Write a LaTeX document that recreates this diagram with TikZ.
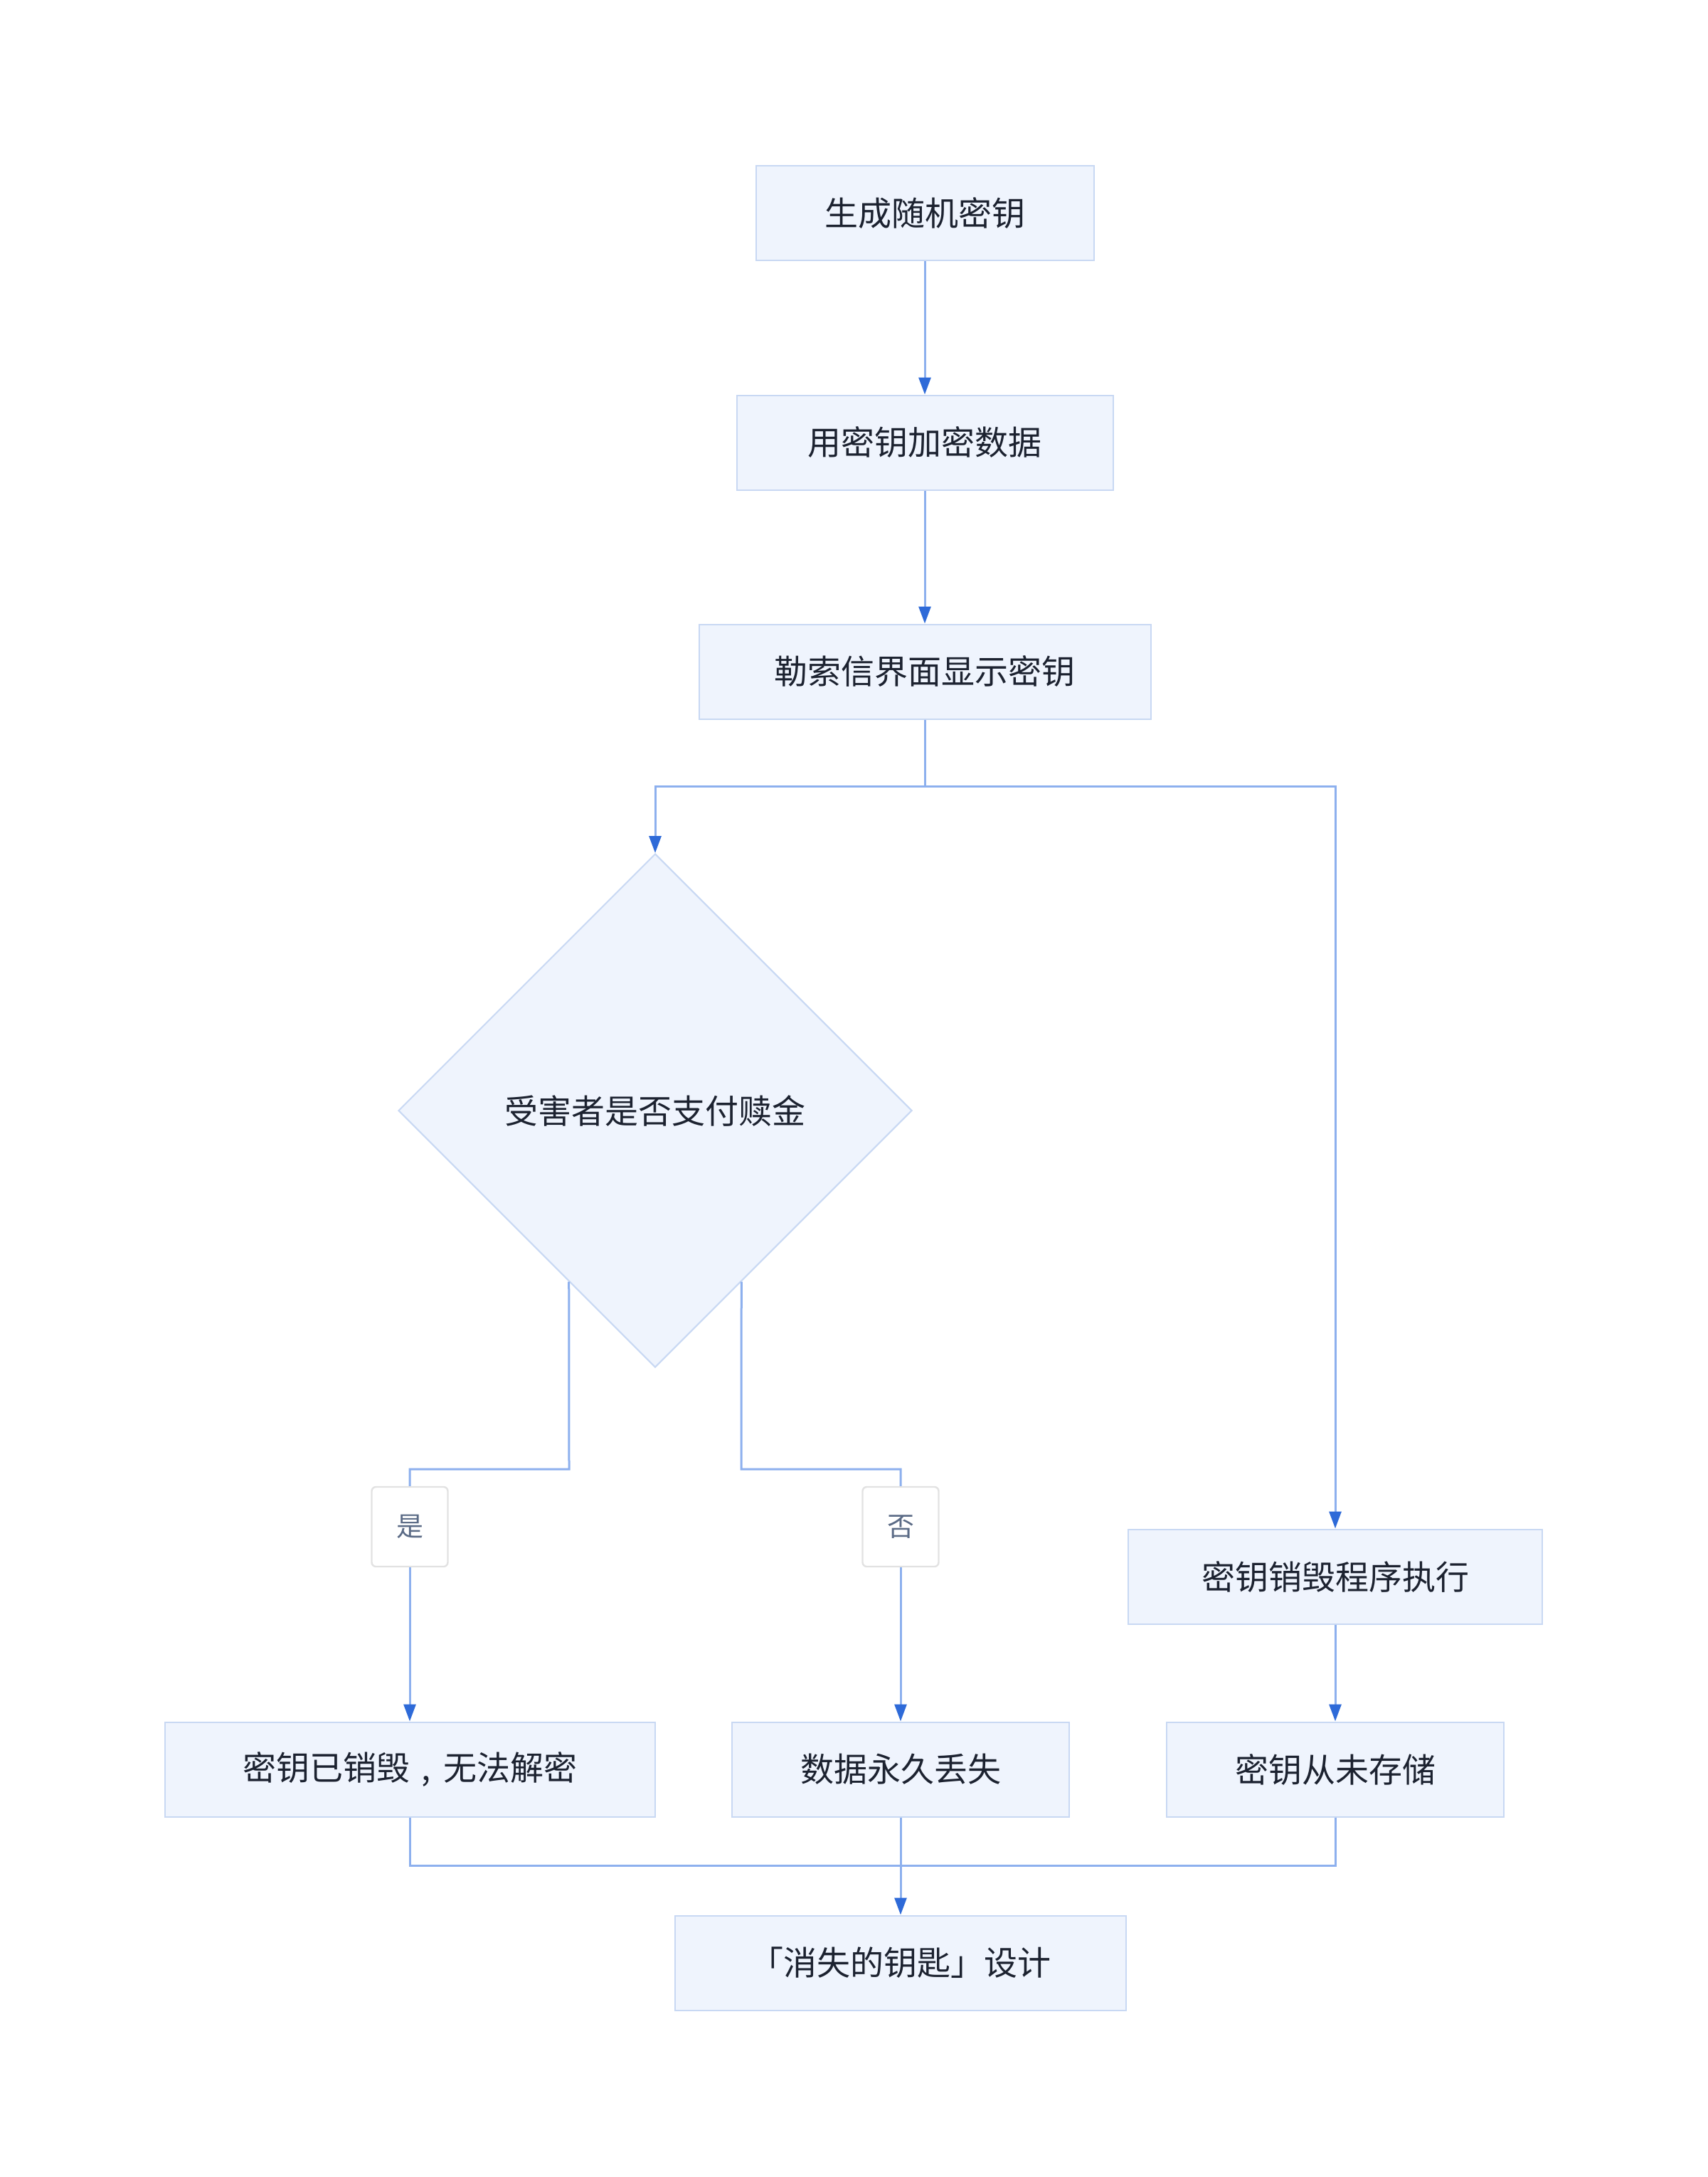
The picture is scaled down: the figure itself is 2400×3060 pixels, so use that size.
\documentclass[tikz,border=0pt]{standalone}
\usepackage{fontspec}
\setmainfont{Noto Sans CJK SC}
\usetikzlibrary{arrows.meta,shapes.geometric,calc}
\definecolor{boxfill}{HTML}{EFF4FD}
\definecolor{boxline}{HTML}{C8D8F3}
\definecolor{conn}{HTML}{8DB0EE}
\definecolor{tip}{HTML}{2E6AD8}
\definecolor{txt}{HTML}{1C2230}
\definecolor{lbltxt}{HTML}{5B6B86}
\definecolor{lblline}{HTML}{E2E2E2}
\newcommand{\midcomma}{\makebox[1em][c]{,}}
\begin{document}
\begin{tikzpicture}[x=0.5pt,y=-0.5pt,
  procbox/.style={draw=boxline,fill=boxfill,line width=1pt,minimum height=66.5pt,inner sep=0pt,text=txt,font=\fontsize{23.5}{28}\selectfont},
  decbox/.style={diamond,draw=boxline,fill=boxfill,line width=1pt,minimum width=361pt,minimum height=361pt,aspect=1,inner sep=0pt,text=txt,font=\fontsize{23.5}{28}\selectfont},
  lblbox/.style={draw=lblline,fill=white,line width=1.2pt,rounded corners=3pt,minimum width=53.5pt,minimum height=56pt,inner sep=0pt,text=lbltxt,font=\fontsize{19}{23}\selectfont},
  link/.style={draw=conn,line width=1.5pt},
  arr/.style={link,-{Triangle[width=8.5pt,length=12pt,color=tip]}}
]
\useasboundingbox (0,0) rectangle (2400,3060);
\fill[white] (0,0) rectangle (2400,3060);

\node[procbox,minimum width=237.5pt] (n1) at (1300,300) {生成随机密钥};
\node[procbox,minimum width=264.5pt] (n2) at (1300,622) {用密钥加密数据};
\node[procbox,minimum width=317.5pt] (n3) at (1300,944) {勒索信界面显示密钥};
\node[decbox] (d) at (921,1561) {受害者是否支付赎金};
\node[procbox,minimum width=291pt] (n4) at (1877,2216) {密钥销毁程序执行};
\node[lblbox] (ly) at (576,2146) {是};
\node[lblbox] (ln) at (1266,2146) {否};
\node[procbox,minimum width=344.5pt] (n5) at (576,2487) {密钥已销毁\midcomma 无法解密};
\node[procbox,minimum width=237pt] (n6) at (1266,2487) {数据永久丢失};
\node[procbox,minimum width=237pt] (n7) at (1877,2487) {密钥从未存储};
\node[procbox,minimum width=317pt] (n8) at (1266,2759) {「消失的钥匙」设计};

\coordinate (b1) at (1300,1105);
\coordinate (py) at ($(d.west)!0.665!(d.south)$);
\coordinate (pn) at ($(d.east)!0.665!(d.south)$);
\coordinate (ky) at (800,2065);
\coordinate (kn) at (1042,2065);
\coordinate (m) at (1266,2622);

\draw[arr] (n1.south) -- (n2.north);
\draw[arr] (n2.south) -- (n3.north);
\draw[link] (n3.south) -- (b1);
\draw[arr] (b1) -| (d.north);
\draw[arr] (b1) -| (n4.north);
\draw[link] (py) -- (ky) -| (ly.north);
\draw[arr] (ly.south) -- (n5.north);
\draw[link] (pn) -- (kn) -| (ln.north);
\draw[arr] (ln.south) -- (n6.north);
\draw[arr] (n4.south) -- (n7.north);
\draw[link] (n5.south) |- (m);
\draw[link] (n7.south) |- (m);
\draw[arr] (n6.south) -- (n8.north);
\end{tikzpicture}
\end{document}
